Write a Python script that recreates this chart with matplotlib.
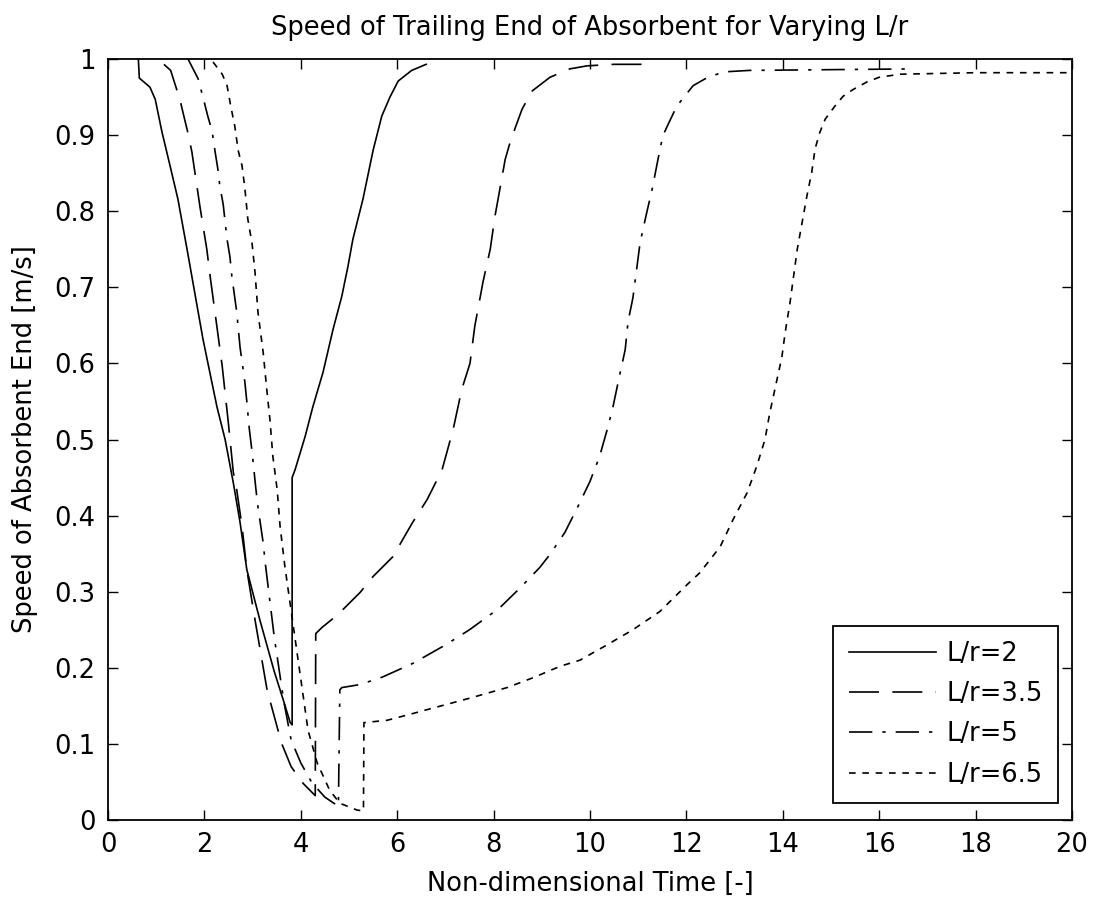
import matplotlib
matplotlib.use("Agg")
import matplotlib.pyplot as plt

# ---- data ----
x_lr2 = [0.63, 0.65, 0.87, 0.98, 1.12, 1.29, 1.45, 1.64, 1.97, 2.26, 2.43, 2.60, 2.74, 2.88,
         3.15, 3.45, 3.65, 3.78, 3.82, 3.82, 3.88, 4.09, 4.25, 4.46, 4.67, 4.85, 4.98, 5.08,
         5.29, 5.50, 5.68, 5.85, 6.02, 6.30, 6.60]
y_lr2 = [1.000, 0.975, 0.963, 0.947, 0.904, 0.859, 0.816, 0.750, 0.632, 0.543, 0.500, 0.443, 0.391, 0.329,
         0.263, 0.195, 0.155, 0.128, 0.125, 0.450, 0.460, 0.504, 0.543, 0.588, 0.645, 0.688, 0.728, 0.763,
         0.816, 0.880, 0.925, 0.950, 0.971, 0.985, 0.993]

x_lr35 = [1.16, 1.30, 1.49, 1.65, 1.74, 1.91, 2.05, 2.12, 2.22, 2.37, 2.49, 2.60, 2.67, 2.78, 2.88,
          3.05, 3.30, 3.60, 3.80, 4.05, 4.30, 4.31, 4.44, 4.77, 5.23, 5.50, 5.91, 6.31, 6.62,
          6.93, 7.16, 7.34, 7.51, 7.61, 7.78, 7.93, 8.03, 8.13, 8.24, 8.34, 8.44, 8.59, 8.80,
          9.17, 9.58, 9.94, 10.50, 11.30]
y_lr35 = [0.993, 0.985, 0.947, 0.905, 0.878, 0.805, 0.750, 0.714, 0.667, 0.596, 0.526, 0.457, 0.434, 0.386, 0.329,
          0.263, 0.171, 0.101, 0.070, 0.048, 0.032, 0.245, 0.253, 0.270, 0.299, 0.320, 0.346, 0.390, 0.421,
          0.460, 0.513, 0.566, 0.600, 0.649, 0.707, 0.750, 0.794, 0.829, 0.868, 0.890, 0.908, 0.934, 0.958,
          0.976, 0.987, 0.991, 0.993, 0.993]

x_lr5 = [1.66, 1.87, 1.97, 2.07, 2.16, 2.22, 2.28, 2.32, 2.39, 2.47, 2.53, 2.57, 2.67, 2.74, 2.84,
         2.88, 2.93, 2.99, 3.07, 3.11, 3.22, 3.26, 3.45, 3.65, 3.80, 4.00, 4.23, 4.50, 4.78, 4.81,
         4.85, 5.23, 5.70, 6.33, 7.00, 7.50, 8.13, 8.55, 8.96, 9.17, 9.48, 9.75, 10.00, 10.20,
         10.37, 10.48, 10.62, 10.73, 10.79, 10.89, 11.04, 11.18, 11.29, 11.41, 11.51, 11.62, 11.80,
         12.14, 12.39, 12.76, 13.30, 15.00, 16.70]
y_lr5 = [1.000, 0.974, 0.950, 0.925, 0.905, 0.879, 0.855, 0.833, 0.809, 0.763, 0.740, 0.714, 0.668, 0.621, 0.575,
         0.550, 0.515, 0.483, 0.434, 0.412, 0.364, 0.339, 0.240, 0.155, 0.105, 0.075, 0.049, 0.030, 0.018, 0.171,
         0.174, 0.178, 0.188, 0.206, 0.230, 0.250, 0.279, 0.305, 0.332, 0.349, 0.378, 0.412, 0.445, 0.478,
         0.516, 0.544, 0.586, 0.618, 0.655, 0.686, 0.759, 0.799, 0.829, 0.868, 0.899, 0.914, 0.938,
         0.965, 0.974, 0.983, 0.985, 0.986, 0.987]

x_lr65 = [2.18, 2.37, 2.47, 2.55, 2.63, 2.70, 2.78, 2.84, 2.90, 2.99, 3.05, 3.11, 3.22, 3.30, 3.36,
          3.42, 3.51, 3.57, 3.67, 3.90, 4.15, 4.34, 4.60, 4.81, 5.17, 5.30, 5.31, 5.79, 6.33, 6.62,
          7.50, 8.28, 8.82, 9.38, 9.79, 10.35, 10.89, 11.45, 12.01, 12.28, 12.70, 12.97, 13.26,
          13.46, 13.63, 13.73, 13.88, 13.98, 14.05, 14.15, 14.30, 14.50, 14.60, 14.67, 14.77,
          14.88, 15.08, 15.25, 15.46, 15.75, 16.00, 16.43, 18.00, 19.90]
y_lr65 = [0.996, 0.980, 0.965, 0.937, 0.912, 0.880, 0.860, 0.830, 0.790, 0.757, 0.720, 0.668, 0.614, 0.562, 0.526,
          0.478, 0.434, 0.386, 0.333, 0.230, 0.118, 0.075, 0.039, 0.022, 0.013, 0.012, 0.128, 0.131, 0.140, 0.145,
          0.160, 0.174, 0.187, 0.202, 0.210, 0.230, 0.250, 0.274, 0.309, 0.325, 0.359, 0.395, 0.430,
          0.465, 0.500, 0.535, 0.579, 0.608, 0.641, 0.680, 0.750, 0.820, 0.851, 0.882, 0.904,
          0.921, 0.938, 0.951, 0.960, 0.970, 0.976, 0.980, 0.982, 0.982]

labels = ["L/r=2", "L/r=3.5", "L/r=5", "L/r=6.5"]
x_ticks = [0, 2, 4, 6, 8, 10, 12, 14, 16, 18, 20]
x_ticklabels = ["0", "2", "4", "6", "8", "10", "12", "14", "16", "18", "20"]
y_ticks = [0, 0.1, 0.2, 0.3, 0.4, 0.5, 0.6, 0.7, 0.8, 0.9, 1.0]
y_ticklabels = ["0", "0.1", "0.2", "0.3", "0.4", "0.5", "0.6", "0.7", "0.8", "0.9", "1"]

# ---- figure ----
plt.rcParams['font.family'] = ['DejaVu Sans']
FS = 18.5

fig = plt.figure(figsize=(10.95, 9.01), dpi=100)
ax = fig.add_axes([108/1095, 1 - 820/901, (1072-108)/1095, (820-59)/901])

lw = 1.2
ax.plot(x_lr2, y_lr2, color='black', lw=lw, linestyle='-', label=labels[0])
ax.plot(x_lr35, y_lr35, color='black', lw=lw, linestyle=(0, (18, 8)), label=labels[1])
ax.plot(x_lr5, y_lr5, color='black', lw=lw, linestyle=(0, (14, 6, 2, 6)), label=labels[2])
ax.plot(x_lr65, y_lr65, color='black', lw=lw, linestyle=(0, (4, 4)), label=labels[3])

ax.set_xlim(0, 20)
ax.set_ylim(0, 1)
ax.set_xticks(x_ticks)
ax.set_xticklabels(x_ticklabels)
ax.set_yticks(y_ticks)
ax.set_yticklabels(y_ticklabels)
ax.tick_params(direction='in', top=True, right=True, length=7, width=1.0,
               labelsize=FS, pad=9)
for s in ax.spines.values():
    s.set_linewidth(1.3)

ax.set_title("Speed of Trailing End of Absorbent for Varying L/r", fontsize=FS, pad=17)
ax.set_xlabel("Non-dimensional Time [-]", fontsize=FS, labelpad=9)
ax.set_ylabel("Speed of Absorbent End [m/s]", fontsize=FS, labelpad=12)

leg = ax.legend(loc='lower right', bbox_to_anchor=(0.9855, 0.0224), borderaxespad=0,
                fontsize=FS, handlelength=3.4, handletextpad=0.4, labelspacing=0.55,
                fancybox=False, edgecolor='black', framealpha=1, borderpad=0.6)
leg.get_frame().set_linewidth(1.3)

fig.savefig("out.png", dpi=100)
